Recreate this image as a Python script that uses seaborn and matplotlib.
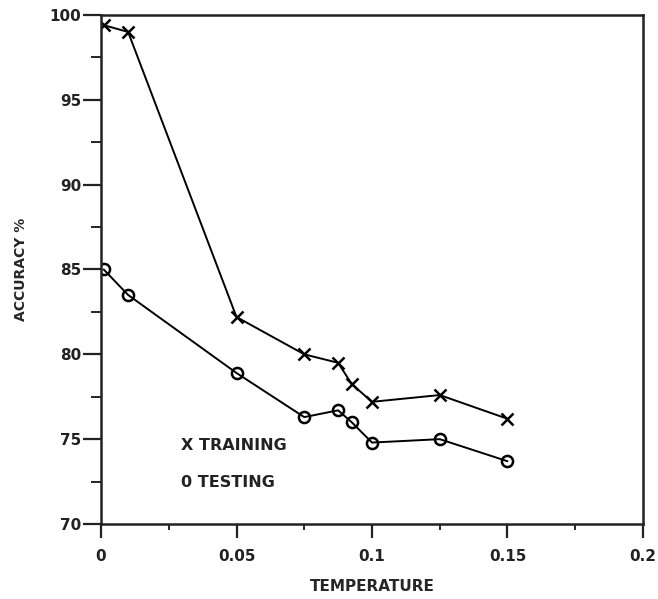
import matplotlib

matplotlib.use("Agg")

import matplotlib.pyplot as plt
import numpy as np
import pandas as pd
import seaborn as sns
from matplotlib.ticker import MultipleLocator

temperature = [0.001, 0.01, 0.05, 0.075, 0.0875, 0.0925, 0.1, 0.125, 0.15]
acc_training = [99.4, 99.0, 82.2, 80.0, 79.5, 78.25, 77.2, 77.6, 76.2]
acc_testing = [85.0, 83.5, 78.9, 76.3, 76.7, 76.0, 74.8, 75.0, 73.7]

df = pd.DataFrame({"temp": temperature, "train": acc_training, "test": acc_testing})

sns.set_theme(style="ticks")
plt.rcParams["font.family"] = ["DejaVu Sans"]
plt.rcParams["font.weight"] = "bold"

fig = plt.figure(figsize=(6.58, 5.99), dpi=100)
ax = fig.add_axes([0.1535, 0.1252, 0.8237, 0.8498])

sns.lineplot(data=df, x="temp", y="train", marker="x", markersize=9,
             markeredgewidth=1.8, markeredgecolor="black",
             color="black", linewidth=1.4, ax=ax)
sns.lineplot(data=df, x="temp", y="test", marker="o", markersize=8,
             markeredgewidth=1.8, markerfacecolor="none", markeredgecolor="black",
             color="black", linewidth=1.4, ax=ax)

ax.set_xlim(0, 0.2)
ax.set_ylim(70, 100)
ax.set_xticks([0, 0.05, 0.1, 0.15, 0.2])
ax.set_xticklabels(["0", "0.05", "0.1", "0.15", "0.2"])
ax.set_yticks(np.arange(70, 101, 5))
ax.xaxis.set_minor_locator(MultipleLocator(0.025))
ax.yaxis.set_minor_locator(MultipleLocator(2.5))

for side in ["left", "right", "top", "bottom"]:
    ax.spines[side].set_visible(True)
    ax.spines[side].set_linewidth(1.8)
    ax.spines[side].set_color("#222222")

ax.tick_params(axis="y", which="major", length=13, width=1.6, pad=1, labelsize=11, colors="#222222")
ax.tick_params(axis="y", which="minor", length=7, width=1.4)
ax.tick_params(axis="x", which="major", length=10, width=1.6, pad=8, labelsize=11, colors="#222222")
ax.tick_params(axis="x", which="minor", length=4, width=1.4)
for lbl in ax.get_xticklabels() + ax.get_yticklabels():
    lbl.set_fontweight("bold")

ax.set_xlabel("TEMPERATURE", fontsize=11, fontweight="bold", labelpad=11)
ax.set_ylabel("ACCURACY %", fontsize=10, fontweight="bold", labelpad=16)

ax.text(0.148, 0.154, "X TRAINING", transform=ax.transAxes, fontsize=11.5,
        fontweight="bold", va="center", ha="left", color="#222222")
ax.text(0.148, 0.081, "0 TESTING", transform=ax.transAxes, fontsize=11.5,
        fontweight="bold", va="center", ha="left", color="#222222")

fig.savefig("out.png", dpi=100)
plt.close(fig)
